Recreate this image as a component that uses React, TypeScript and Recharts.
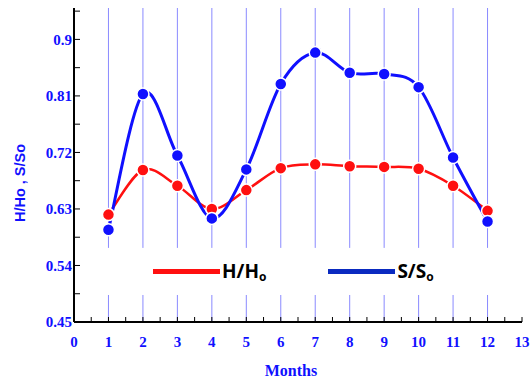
import React from "react";
import {
  LineChart,
  Line,
  XAxis,
  YAxis,
  ReferenceLine,
  Label,
} from "recharts";

// monthly ratios
const months = [1, 2, 3, 4, 5, 6, 7, 8, 9, 10, 11, 12];
const hRatio = [0.621, 0.692, 0.667, 0.63, 0.66, 0.695, 0.701, 0.698, 0.697, 0.694, 0.667, 0.627];
const sRatio = [0.597, 0.813, 0.715, 0.615, 0.693, 0.829, 0.879, 0.847, 0.845, 0.824, 0.712, 0.61];

const xTicks = [0, 0.5, 1, 1.5, 2, 2.5, 3, 3.5, 4, 4.5, 5, 5.5, 6, 6.5, 7, 7.5, 8, 8.5, 9, 9.5, 10, 10.5, 11, 11.5, 12, 12.5, 13];
const yTicks = [0.45, 0.495, 0.54, 0.585, 0.63, 0.675, 0.72, 0.765, 0.81, 0.855, 0.9, 0.945];
const yLabels = ["0.45", "0.54", "0.63", "0.72", "0.81", "0.9"];

const data = months.map((m, i) => ({ month: m, h: hRatio[i], s: sRatio[i] }));

const BLUE = "#1010ff";
const tickFont = { fill: BLUE, fontFamily: "Liberation Serif", fontWeight: "bold", fontSize: 15 };

// catmull-rom style smooth curve through the points
const smoothCurve = (context: any) => {
  let pts: number[][] = [];
  return {
    areaStart() {},
    areaEnd() {},
    lineStart() {
      pts = [];
    },
    point(x: number, y: number) {
      pts.push([+x, +y]);
    },
    lineEnd() {
      if (!pts.length) return;
      context.moveTo(pts[0][0], pts[0][1]);
      for (let i = 0; i < pts.length - 1; i++) {
        const p0 = pts[i - 1] || pts[i];
        const p1 = pts[i];
        const p2 = pts[i + 1];
        const p3 = pts[i + 2] || pts[i + 1];
        context.bezierCurveTo(
          p1[0] + (p2[0] - p0[0]) / 6,
          p1[1] + (p2[1] - p0[1]) / 6,
          p2[0] - (p3[0] - p1[0]) / 6,
          p2[1] - (p3[1] - p1[1]) / 6,
          p2[0],
          p2[1]
        );
      }
    },
  };
};

const fmtX = (v: number) => (Number.isInteger(v) ? String(v) : "");
const fmtY = (v: number) => {
  const s = String(+v.toFixed(3));
  return yLabels.includes(s) ? s : "";
};

const LegendItem = ({ color, main, sub }: { color: string; main: string; sub: string }) => (
  <div style={{ display: "flex", alignItems: "center" }}>
    <div style={{ width: 67, height: 5, background: color }} />
    <span style={{ fontFamily: "Open Sans", fontWeight: "bold", fontSize: 19, color: "#000", marginLeft: 2 }}>
      {main}
      <sub style={{ fontSize: 12, verticalAlign: "-3px" }}>{sub}</sub>
    </span>
  </div>
);

export default function App() {
  return (
    <div style={{ position: "absolute", left: 0, top: 0, width: 530, height: 378, background: "#fff" }}>
      <LineChart width={530} height={378} data={data} margin={{ top: 8, right: 8, bottom: 0, left: 0 }}>
        <XAxis
          xAxisId="b"
          dataKey="month"
          type="number"
          domain={[0, 13]}
          ticks={xTicks}
          interval={0}
          tickFormatter={fmtX}
          tickSize={-5}
          tickMargin={19}
          height={56}
          axisLine={{ stroke: "#000", strokeWidth: 2 }}
          tickLine={{ stroke: "#000" }}
          tick={tickFont}
        >
          <Label
            value="Months"
            position="insideBottom"
            offset={2}
            dx={-7}
            style={{ fill: BLUE, fontFamily: "Liberation Serif", fontWeight: "bold", fontSize: 16 }}
          />
        </XAxis>
        <XAxis
          xAxisId="t"
          orientation="top"
          type="number"
          domain={[0, 13]}
          ticks={xTicks}
          interval={0}
          tickFormatter={() => ""}
          tickSize={-5}
          height={0}
          axisLine={{ stroke: "#000", strokeWidth: 2 }}
          tickLine={{ stroke: "#000" }}
        />
        <YAxis
          yAxisId="l"
          type="number"
          domain={[0.45, 0.95]}
          ticks={yTicks}
          interval={0}
          tickFormatter={fmtY}
          tickSize={-6}
          tickMargin={8}
          width={74}
          allowDataOverflow
          axisLine={{ stroke: "#000", strokeWidth: 2 }}
          tickLine={{ stroke: "#000" }}
          tick={tickFont}
        >
          <Label
            value="H/Ho , S/So"
            angle={-90}
            position="insideLeft"
            offset={20}
            dy={18}
            style={{ fill: BLUE, fontFamily: "Liberation Sans", fontWeight: "bold", fontSize: 14.5, textAnchor: "middle" }}
          />
        </YAxis>
        <YAxis
          yAxisId="r"
          orientation="right"
          type="number"
          domain={[0.45, 0.95]}
          ticks={yTicks}
          interval={0}
          tickFormatter={() => ""}
          tickSize={-6}
          width={0}
          allowDataOverflow
          axisLine={{ stroke: "#000", strokeWidth: 2 }}
          tickLine={{ stroke: "#000" }}
        />
        {months.map((m) => (
          <ReferenceLine
            key={"a" + m}
            xAxisId="b"
            yAxisId="l"
            segment={[{ x: m, y: 0.45 }, { x: m, y: 0.493 }]}
            stroke="#8a8aff"
            strokeWidth={1}
          />
        ))}
        {months.map((m) => (
          <ReferenceLine
            key={"b" + m}
            xAxisId="b"
            yAxisId="l"
            segment={[{ x: m, y: 0.568 }, { x: m, y: 0.95 }]}
            stroke="#8a8aff"
            strokeWidth={1}
          />
        ))}
        <Line
          xAxisId="b"
          yAxisId="l"
          dataKey="h"
          type={smoothCurve as any}
          stroke="#ff1010"
          strokeWidth={2.5}
          dot={{ r: 6, fill: "#ff1010", stroke: "#fff", strokeWidth: 1.5 }}
          isAnimationActive={false}
        />
        <Line
          xAxisId="b"
          yAxisId="l"
          dataKey="s"
          type={smoothCurve as any}
          stroke="#1010ff"
          strokeWidth={3}
          dot={{ r: 6, fill: "#1010ff", stroke: "#fff", strokeWidth: 1.5 }}
          isAnimationActive={false}
        />
      </LineChart>
      <div style={{ position: "absolute", left: 153, top: 258, display: "flex", gap: 0 }}>
        <LegendItem color="#ff1010" main="H/H" sub="o" />
        <div style={{ width: 62 }} />
        <LegendItem color="#0a2ac0" main="S/S" sub="o" />
      </div>
    </div>
  );
}
